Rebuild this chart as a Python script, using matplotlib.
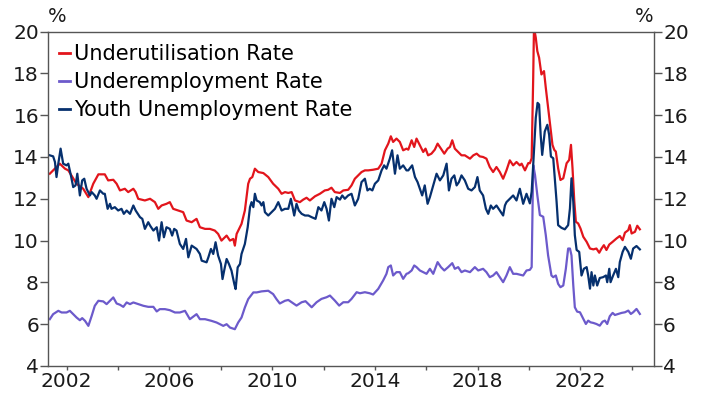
import matplotlib
matplotlib.use("Agg")
import matplotlib.pyplot as plt

plt.rcParams['font.family'] = ['DejaVu Sans']

# (decimal year, per cent)
under = [
    (2001.35, 13.20), (2001.74, 13.68), (2001.94, 13.44), (2002.07, 13.36), (2002.39, 12.72), (2002.65, 12.48), (2002.85, 12.08),
    (2003.04, 12.72), (2003.24, 13.17), (2003.49, 13.17), (2003.62, 12.88), (2003.82, 12.91), (2003.95, 12.72),
    (2004.08, 12.40), (2004.27, 12.48), (2004.40, 12.32), (2004.60, 12.48), (2004.69, 12.32), (2004.79, 12.00),
    (2005.05, 11.92), (2005.25, 12.00), (2005.44, 11.84), (2005.57, 11.52), (2005.70, 11.68), (2005.89, 11.76),
    (2006.02, 11.84), (2006.15, 11.52), (2006.35, 11.44), (2006.54, 11.36), (2006.67, 10.96), (2006.87, 10.88),
    (2007.06, 11.04), (2007.19, 10.64), (2007.39, 10.56), (2007.58, 10.56), (2007.77, 10.48), (2007.90, 10.32),
    (2008.03, 10.00), (2008.23, 10.24), (2008.36, 10.00), (2008.49, 10.08), (2008.55, 9.76), (2008.62, 10.32), (2008.81, 10.80), (2008.94, 11.44),
    (2009.07, 12.72), (2009.14, 12.96), (2009.23, 13.04), (2009.33, 13.44), (2009.46, 13.28), (2009.66, 13.23), (2009.85, 13.04),
    (2010.04, 12.72), (2010.24, 12.48), (2010.37, 12.24), (2010.50, 12.32), (2010.63, 12.28), (2010.76, 12.32), (2010.89, 11.92),
    (2011.08, 11.84), (2011.21, 11.96), (2011.34, 12.05), (2011.47, 11.92), (2011.67, 12.12), (2011.86, 12.24),
    (2012.05, 12.40), (2012.18, 12.43), (2012.31, 12.53), (2012.44, 12.32), (2012.64, 12.28), (2012.77, 12.40), (2012.96, 12.43),
    (2013.09, 12.64), (2013.22, 12.96), (2013.35, 13.12), (2013.48, 13.28), (2013.61, 13.36), (2013.74, 13.36), (2013.93, 13.39),
    (2014.13, 13.44), (2014.26, 13.68), (2014.39, 14.32), (2014.52, 14.64), (2014.62, 14.99), (2014.71, 14.72), (2014.84, 14.88), (2014.97, 14.72),
    (2015.10, 14.32), (2015.23, 14.40), (2015.30, 14.35), (2015.43, 14.80), (2015.53, 14.48), (2015.62, 14.88), (2015.75, 14.56), (2015.88, 14.24), (2015.97, 14.40),
    (2016.07, 14.08), (2016.20, 14.16), (2016.33, 14.35), (2016.44, 14.64), (2016.57, 14.40), (2016.70, 14.16), (2016.83, 14.40), (2016.92, 14.48),
    (2017.01, 14.80), (2017.11, 14.40), (2017.24, 14.24), (2017.37, 14.08), (2017.50, 14.08), (2017.70, 13.92), (2017.83, 14.08), (2017.96, 14.16),
    (2018.08, 14.03), (2018.21, 14.00), (2018.34, 13.92), (2018.47, 13.52), (2018.60, 13.28), (2018.73, 13.52), (2018.86, 13.28), (2018.99, 12.96),
    (2019.12, 13.36), (2019.25, 13.84), (2019.38, 13.60), (2019.51, 13.76), (2019.64, 13.60), (2019.71, 13.68), (2019.84, 13.36), (2019.97, 13.71),
    (2020.03, 13.70), (2020.10, 13.94), (2020.16, 17.79), (2020.19, 20.20), (2020.26, 19.71), (2020.32, 19.07), (2020.39, 18.75), (2020.48, 17.95),
    (2020.58, 18.11), (2020.65, 17.31), (2020.74, 16.35), (2020.83, 15.38), (2020.91, 14.58), (2020.98, 14.34),
    (2021.04, 14.26), (2021.13, 13.46), (2021.22, 12.90), (2021.33, 12.98), (2021.46, 13.70), (2021.56, 13.86), (2021.63, 14.58), (2021.69, 13.46),
    (2021.76, 11.86), (2021.82, 10.90), (2021.91, 10.82),
    (2022.00, 10.58), (2022.11, 10.18), (2022.24, 9.94), (2022.37, 9.62), (2022.50, 9.58), (2022.62, 9.62), (2022.73, 9.42), (2022.82, 9.62), (2022.91, 9.78),
    (2023.01, 9.55), (2023.12, 9.81), (2023.25, 9.94), (2023.40, 10.10), (2023.53, 10.22), (2023.64, 10.02), (2023.73, 10.38), (2023.86, 10.50),
    (2023.92, 10.74), (2023.99, 10.34), (2024.12, 10.42), (2024.21, 10.71), (2024.31, 10.54),
]

underemp = [
    (2001.35, 6.24), (2001.48, 6.48), (2001.68, 6.64), (2001.81, 6.56), (2002.00, 6.56), (2002.13, 6.64), (2002.26, 6.48), (2002.39, 6.32),
    (2002.52, 6.19), (2002.61, 6.29), (2002.72, 6.16), (2002.85, 5.92), (2002.98, 6.40),
    (2003.10, 6.88), (2003.24, 7.12), (2003.43, 7.09), (2003.56, 6.96), (2003.69, 7.12), (2003.82, 7.28), (2003.95, 6.99),
    (2004.08, 6.93), (2004.21, 6.83), (2004.34, 7.04), (2004.47, 6.96), (2004.60, 7.04), (2004.79, 6.96), (2004.99, 6.88),
    (2005.18, 6.83), (2005.38, 6.83), (2005.51, 6.61), (2005.63, 6.72), (2005.83, 6.72), (2006.02, 6.67), (2006.22, 6.56), (2006.41, 6.56),
    (2006.61, 6.64), (2006.80, 6.24),
    (2007.06, 6.48), (2007.19, 6.24), (2007.39, 6.24), (2007.64, 6.16), (2007.84, 6.08), (2008.10, 5.92), (2008.23, 6.00), (2008.36, 5.84),
    (2008.55, 5.76), (2008.68, 6.08), (2008.81, 6.32), (2008.94, 6.80),
    (2009.07, 7.20), (2009.27, 7.52), (2009.40, 7.52), (2009.59, 7.57), (2009.85, 7.60), (2010.04, 7.44), (2010.17, 7.20), (2010.30, 6.99),
    (2010.50, 7.12), (2010.63, 7.16), (2010.76, 7.05), (2010.95, 6.89),
    (2011.15, 7.05), (2011.30, 7.10), (2011.54, 6.81), (2011.73, 7.05), (2011.92, 7.21), (2012.12, 7.29), (2012.25, 7.37), (2012.44, 7.13),
    (2012.61, 6.89), (2012.77, 7.05), (2012.96, 7.05),
    (2013.09, 7.21), (2013.29, 7.53), (2013.42, 7.48), (2013.61, 7.53), (2013.80, 7.48), (2013.93, 7.42), (2014.13, 7.69), (2014.32, 8.09),
    (2014.45, 8.41), (2014.52, 8.73), (2014.62, 8.81), (2014.71, 8.33), (2014.84, 8.49), (2014.97, 8.49),
    (2015.10, 8.17), (2015.23, 8.41), (2015.30, 8.44), (2015.43, 8.57), (2015.53, 8.81), (2015.62, 8.73), (2015.75, 8.57), (2015.88, 8.49),
    (2016.01, 8.41), (2016.14, 8.65), (2016.27, 8.41), (2016.44, 8.97), (2016.57, 8.73), (2016.70, 8.57), (2016.85, 8.73),
    (2017.01, 8.92), (2017.11, 8.65), (2017.24, 8.73), (2017.37, 8.49), (2017.50, 8.57), (2017.70, 8.49), (2017.89, 8.73), (2018.02, 8.57),
    (2018.21, 8.65), (2018.34, 8.49), (2018.47, 8.25), (2018.60, 8.33), (2018.73, 8.49), (2018.86, 8.25), (2018.99, 8.01),
    (2019.12, 8.33), (2019.25, 8.73), (2019.38, 8.41), (2019.51, 8.41), (2019.64, 8.37), (2019.77, 8.33), (2019.90, 8.57), (2020.03, 8.60), (2020.10, 8.73),
    (2020.16, 13.62), (2020.23, 13.14), (2020.32, 12.18), (2020.42, 11.22), (2020.55, 11.14), (2020.65, 10.26), (2020.74, 9.29), (2020.87, 8.33), (2020.94, 8.25),
    (2021.04, 8.33), (2021.13, 7.93), (2021.22, 7.77), (2021.33, 7.85), (2021.43, 8.65), (2021.52, 9.62), (2021.59, 9.62), (2021.65, 9.29),
    (2021.72, 7.85), (2021.78, 6.81), (2021.87, 6.60), (2021.98, 6.57),
    (2022.11, 6.25), (2022.21, 6.01), (2022.30, 6.17), (2022.39, 6.09), (2022.50, 6.06), (2022.62, 6.01), (2022.75, 5.93), (2022.86, 6.12), (2022.95, 6.17),
    (2023.04, 6.01), (2023.14, 6.38), (2023.25, 6.54), (2023.34, 6.44), (2023.47, 6.49), (2023.60, 6.54), (2023.73, 6.57), (2023.86, 6.65), (2023.96, 6.49),
    (2024.05, 6.57), (2024.18, 6.73), (2024.31, 6.49),
]

youth = [
    (2001.35, 14.08), (2001.48, 14.03), (2001.55, 13.76), (2001.61, 13.04), (2001.68, 13.68), (2001.77, 14.40), (2001.87, 13.68),
    (2002.00, 13.60), (2002.07, 13.68), (2002.17, 13.12), (2002.26, 12.56), (2002.35, 12.64), (2002.42, 13.20), (2002.52, 12.16), (2002.61, 12.88),
    (2002.69, 12.96), (2002.78, 12.48), (2002.91, 12.16), (2002.98, 12.32),
    (2003.10, 12.16), (2003.17, 12.00), (2003.30, 12.40), (2003.43, 12.24), (2003.49, 12.24), (2003.60, 11.52), (2003.69, 11.76), (2003.75, 11.52), (2003.88, 11.60),
    (2004.01, 11.44), (2004.14, 11.52), (2004.23, 11.28), (2004.34, 11.44), (2004.47, 11.28), (2004.60, 11.68), (2004.69, 11.44), (2004.86, 11.12), (2004.95, 11.04),
    (2005.05, 10.56), (2005.18, 10.88), (2005.25, 10.72), (2005.38, 10.48), (2005.51, 10.64), (2005.60, 10.00), (2005.70, 10.88), (2005.79, 10.16), (2005.89, 10.64),
    (2006.02, 10.56), (2006.11, 10.24), (2006.19, 10.56), (2006.28, 10.48), (2006.41, 9.84), (2006.54, 9.60), (2006.65, 10.08), (2006.74, 9.20), (2006.87, 9.76),
    (2007.06, 9.60), (2007.19, 9.36), (2007.26, 9.04), (2007.45, 8.96), (2007.52, 9.20), (2007.62, 9.60), (2007.71, 9.36), (2007.80, 9.92), (2007.90, 9.28),
    (2008.01, 8.88), (2008.07, 8.16), (2008.16, 8.72), (2008.23, 9.12), (2008.32, 8.88), (2008.42, 8.56), (2008.53, 7.92), (2008.58, 7.68),
    (2008.66, 8.72), (2008.75, 8.88), (2008.81, 9.36), (2008.94, 9.84),
    (2009.05, 10.64), (2009.14, 11.60), (2009.20, 11.84), (2009.27, 11.60), (2009.33, 12.24), (2009.40, 11.92), (2009.52, 11.84), (2009.59, 11.68),
    (2009.66, 11.84), (2009.72, 11.36), (2009.85, 11.20), (2009.98, 11.36),
    (2010.11, 11.52), (2010.24, 11.84), (2010.37, 11.44), (2010.50, 11.52), (2010.63, 11.52), (2010.73, 12.00), (2010.86, 11.20), (2010.95, 11.76),
    (2011.04, 11.44), (2011.15, 11.28), (2011.28, 11.20), (2011.41, 11.20), (2011.54, 11.12), (2011.69, 11.04), (2011.80, 11.60), (2011.92, 11.44),
    (2012.03, 11.84), (2012.12, 11.52), (2012.21, 10.96), (2012.31, 12.00), (2012.42, 11.60), (2012.51, 12.08), (2012.64, 11.96), (2012.73, 12.16),
    (2012.83, 12.00), (2012.96, 12.16),
    (2013.09, 12.24), (2013.22, 11.68), (2013.35, 12.00), (2013.48, 12.80), (2013.61, 12.96), (2013.71, 12.40), (2013.80, 12.48), (2013.90, 12.40),
    (2014.00, 12.72), (2014.13, 12.88), (2014.26, 13.36), (2014.36, 13.60), (2014.45, 13.44), (2014.58, 13.92), (2014.67, 14.32), (2014.78, 13.20),
    (2014.88, 14.08), (2014.97, 13.44),
    (2015.10, 13.60), (2015.23, 13.36), (2015.30, 13.36), (2015.45, 13.60), (2015.56, 13.04), (2015.66, 12.80), (2015.75, 12.48), (2015.84, 12.16), (2015.94, 12.64),
    (2016.05, 11.76), (2016.14, 12.08), (2016.27, 12.64), (2016.40, 13.20), (2016.53, 12.88), (2016.66, 13.12), (2016.79, 13.68), (2016.88, 12.40), (2016.98, 12.96),
    (2017.09, 13.12), (2017.18, 12.64), (2017.27, 12.80), (2017.37, 13.12), (2017.50, 12.88), (2017.63, 12.48), (2017.76, 12.40), (2017.89, 12.56), (2017.99, 13.04),
    (2018.08, 12.40), (2018.21, 12.16), (2018.32, 11.52), (2018.41, 11.28), (2018.51, 11.68), (2018.60, 11.52), (2018.73, 11.68), (2018.86, 11.44), (2018.99, 11.20),
    (2019.06, 11.68), (2019.12, 11.84), (2019.25, 12.00), (2019.38, 12.16), (2019.51, 11.92), (2019.64, 12.48), (2019.77, 11.76), (2019.90, 12.24),
    (2020.03, 11.78), (2020.10, 12.34), (2020.16, 13.62), (2020.26, 15.87), (2020.33, 16.59), (2020.39, 16.51), (2020.45, 15.06), (2020.51, 14.10),
    (2020.61, 15.22), (2020.71, 15.54), (2020.78, 15.06), (2020.85, 14.02), (2020.94, 13.94),
    (2021.00, 12.98), (2021.07, 11.86), (2021.13, 10.74), (2021.26, 10.61), (2021.39, 10.54), (2021.52, 10.74), (2021.59, 11.54), (2021.65, 12.98),
    (2021.72, 11.86), (2021.78, 10.26), (2021.85, 9.55), (2021.95, 9.46),
    (2022.04, 8.33), (2022.13, 8.65), (2022.24, 8.73), (2022.30, 8.33), (2022.37, 7.70), (2022.43, 8.49), (2022.50, 7.85), (2022.56, 8.33),
    (2022.65, 7.85), (2022.75, 8.21), (2022.88, 8.25), (2022.99, 8.33),
    (2023.04, 8.01), (2023.12, 8.65), (2023.17, 8.01), (2023.27, 8.33), (2023.38, 8.65), (2023.47, 8.25), (2023.53, 8.97), (2023.64, 9.46),
    (2023.73, 9.70), (2023.86, 9.46), (2023.96, 9.13), (2024.05, 9.62), (2024.18, 9.74), (2024.31, 9.58),
]

series = [
    ("Underutilisation Rate", under, "#e2151c"),
    ("Underemployment Rate", underemp, "#6c5acb"),
    ("Youth Unemployment Rate", youth, "#06306e"),
]

year_ticks = list(range(2002, 2025, 2))
year_labels = [str(y) if (y - 2002) % 4 == 0 else "" for y in year_ticks]
y_ticks = list(range(4, 21, 2))

fig = plt.figure(figsize=(7.02, 3.94), dpi=100)
ax = fig.add_axes([0.0684, 0.0711, 0.8632, 0.8487])

for name, pts, col in series:
    xs, ys = zip(*pts)
    ax.plot(xs, ys, color=col, lw=1.6, label=name, solid_joinstyle="round")

ax.set_xlim(2001.28, 2024.86)
ax.set_ylim(4, 20)
ax.set_xticks(year_ticks)
ax.set_xticklabels(year_labels)
ax.set_yticks(y_ticks)

for s in ax.spines.values():
    s.set_color("#555555")
    s.set_linewidth(1.0)

ax.tick_params(axis="both", direction="out", width=1, color="#555555",
               labelsize=14.5, labelcolor="#1a1a1a")
ax.tick_params(axis="x", length=3, pad=1)
ax.tick_params(axis="y", length=5.5, pad=1, right=True, labelright=True)

fig.text(0.082, 0.957, "%", fontsize=14, color="#1a1a1a", ha="center", va="center")
fig.text(0.918, 0.957, "%", fontsize=14, color="#1a1a1a", ha="center", va="center")

leg = ax.legend(loc="upper left", frameon=False, fontsize=15, handlelength=0.5, handletextpad=0.2,
                labelspacing=0.38, borderaxespad=0.0, borderpad=0.42, bbox_to_anchor=(0.004, 0.988))
for h in leg.get_lines():
    h.set_linewidth(2.0)

fig.savefig("out.png", dpi=100)
